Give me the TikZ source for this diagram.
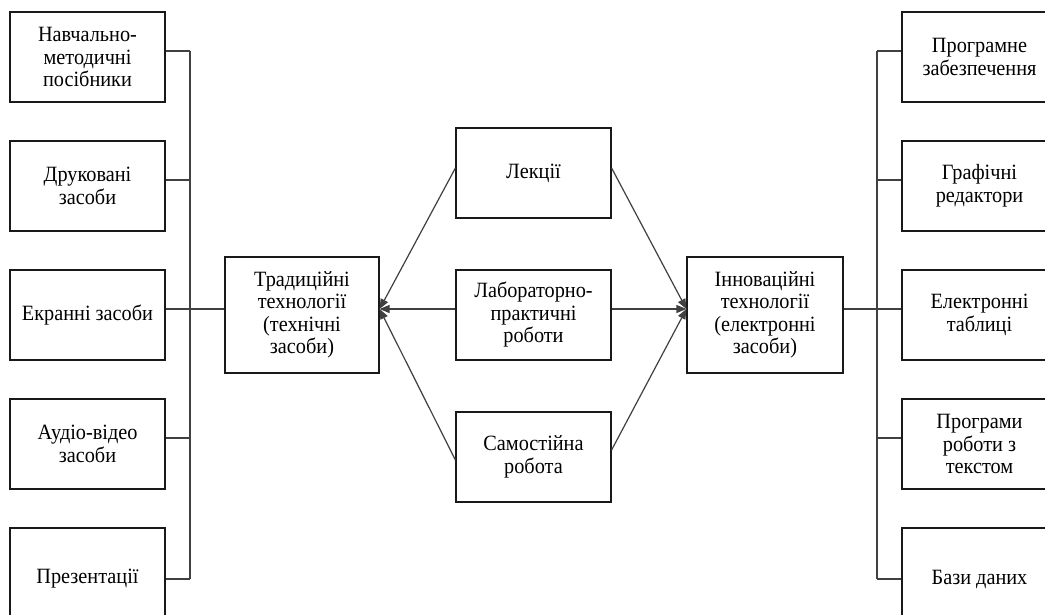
\documentclass[tikz,border=0pt]{standalone}
\usepackage{fontspec}
\setmainfont{Liberation Serif}[FakeStretch=0.93]
\usetikzlibrary{arrows.meta}
\begin{document}
\begin{tikzpicture}[x=1pt,y=-1pt,
  box/.style={draw=black!90, line width=1.2pt, minimum width=155pt, minimum height=90pt,
    align=center, font=\fontsize{21.8}{22.5}\selectfont, inner sep=2pt},
  conn/.style={draw=black!75, line width=1.2pt},
  arr/.style={conn, -{Triangle[length=10pt,width=8pt]}}]
\useasboundingbox (0,0) rectangle (1045,614);
\fill[white] (0,0) rectangle (1045,614);
% left column
\node[box] (l1) at (87.5,57) {Навчально-\\методичні\\посібники};
\node[box] (l2) at (87.5,186) {Друковані\\засоби};
\node[box] (l3) at (87.5,315) {Екранні засоби};
\node[box] (l4) at (87.5,444) {Аудіо-відео\\засоби};
\node[box, minimum height=102pt] (l5) at (87.5,579) {Презентації};
\coordinate (lbus) at (190,0);
% right column
\node[box] (r1) at (979.5,57) {Програмне\\забезпечення};
\node[box] (r2) at (979.5,186) {Графічні\\редактори};
\node[box] (r3) at (979.5,315) {Електронні\\таблиці};
\node[box] (r4) at (979.5,444) {Програми\\роботи з\\текстом};
\node[box, minimum height=102pt] (r5) at (979.5,579) {Бази даних};
\coordinate (rbus) at (877,0);
% main boxes
\node[box, minimum width=154pt, minimum height=116pt] (t) at (302,315) {Традиційні\\технології\\(технічні\\засоби)};
\node[box, minimum width=156pt, minimum height=116pt] (i) at (765,315) {Інноваційні\\технології\\(електронні\\засоби)};
\node[box] (lek) at (533.5,173) {Лекції};
\node[box] (lab) at (533.5,315) {Лабораторно-\\практичні\\роботи};
\node[box] (sam) at (533.5,457) {Самостійна\\робота};
% left bus
\foreach \b in {l1,l2,l4}{
  \draw[conn] ([yshift=6pt]\b.east) -- ([yshift=6pt]\b.east -| lbus);
}
\draw[conn] (l5.east) -- (l5.east -| lbus);
\draw[conn] ([yshift=6pt]l1.east -| lbus) -- (l5.east -| lbus);
\draw[conn] ([yshift=6pt]l3.east) -- ([yshift=6pt]t.west);
% right bus
\foreach \b in {r1,r2,r4}{
  \draw[conn] ([yshift=6pt]\b.west) -- ([yshift=6pt]\b.west -| rbus);
}
\draw[conn] (r5.west) -- (r5.west -| rbus);
\draw[conn] ([yshift=6pt]r1.west -| rbus) -- (r5.west -| rbus);
\draw[conn] ([yshift=6pt]i.east) -- ([yshift=6pt]r3.west);
% arrows
\draw[arr] ([yshift=5pt]lek.west) -- ([yshift=6pt]t.east);
\draw[arr] ([yshift=6pt]lab.west) -- ([yshift=6pt]t.east);
\draw[arr] ([yshift=-3pt]sam.west) -- ([yshift=6pt]t.east);
\draw[arr] ([yshift=5pt]lek.east) -- ([yshift=6pt]i.west);
\draw[arr] ([yshift=6pt]lab.east) -- ([yshift=6pt]i.west);
\draw[arr] ([yshift=7pt]sam.east) -- ([yshift=6pt]i.west);
\end{tikzpicture}
\end{document}
